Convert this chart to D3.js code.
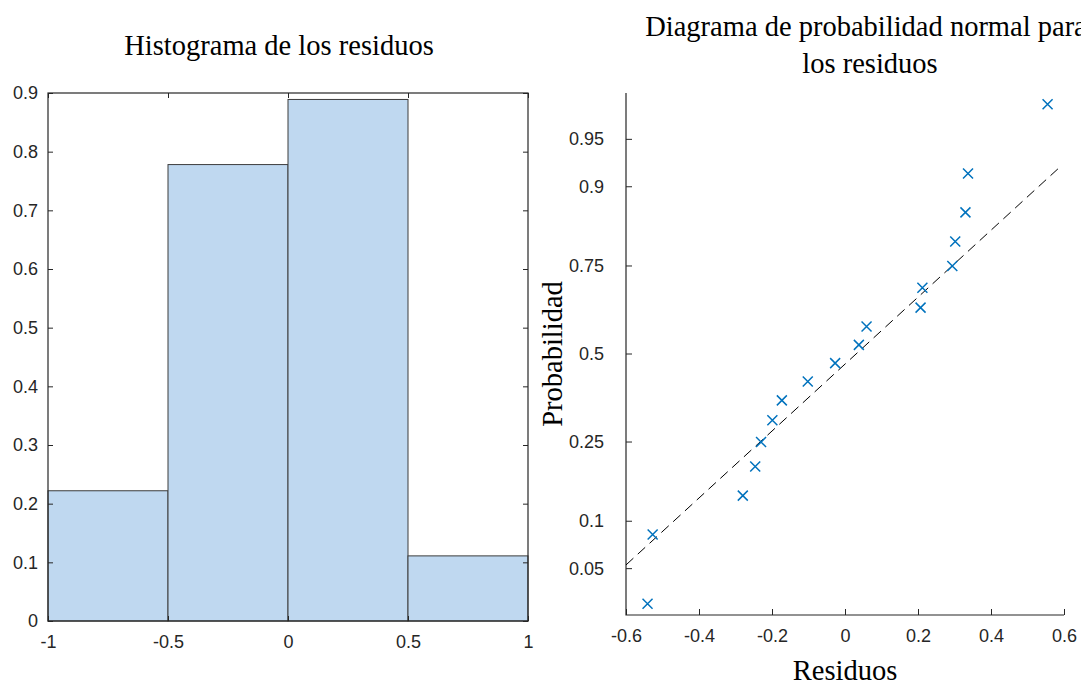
<!DOCTYPE html>
<html>
<head>
<meta charset="utf-8">
<script src="https://cdn.jsdelivr.net/npm/d3@7"></script>
<style>
	body { margin: 0; background: white; }
	.tick text { font-family: 'Liberation Sans', Arial, sans-serif; font-size: 18px; fill: #262626; }
	.ttl { font-family: 'Liberation Serif', 'Times New Roman', serif; font-size: 28.5px; fill: black; }
</style>
</head>
<body>
<svg id="chart" width="1081" height="686"></svg>
<script>
'use strict'

// histogram (normalised as pdf)
var binEdges = [-1, -0.5, 0, 0.5, 1];
var binHeights = [0.222, 0.778, 0.889, 0.111];
var histXTicks = [-1, -0.5, 0, 0.5, 1];
var histYTicks = [0, 0.1, 0.2, 0.3, 0.4, 0.5, 0.6, 0.7, 0.8, 0.9];

// normal probability plot
var residuals = [-0.541, -0.527, -0.280, -0.246, -0.230, -0.199, -0.173, -0.102, -0.027,
	0.038, 0.059, 0.207, 0.212, 0.294, 0.302, 0.330, 0.337, 0.555];
var probs = [0.0278, 0.0833, 0.1389, 0.1944, 0.25, 0.3056, 0.3611, 0.4167, 0.4722,
	0.5278, 0.5833, 0.6389, 0.6944, 0.75, 0.8056, 0.8611, 0.9167, 0.9722];
var refLineX = [-0.6, 0.586];
var refLineP = [0.053, 0.923];
var probXTicks = [-0.6, -0.4, -0.2, 0, 0.2, 0.4, 0.6];
var probYTicks = [0.05, 0.1, 0.25, 0.5, 0.75, 0.9, 0.95];

var AXIS_COLOR = '#262626';

// inverse normal cdf (Acklam)
function probit(p) {
	var a = [-39.69683028665376, 220.9460984245205, -275.9285104469687, 138.3577518672690, -30.66479806614716, 2.506628277459239];
	var b = [-54.47609879822406, 161.5858368580409, -155.6989798598866, 66.80131188771972, -13.28068155288572];
	var c = [-0.007784894002430293, -0.3223964580411365, -2.400758277161838, -2.549732539343734, 4.374664141464968, 2.938163982698783];
	var d = [0.007784695709041462, 0.3224671290700398, 2.445134137142996, 3.754408661907416];
	var q, r;
	if (p < 0.02425) {
		q = Math.sqrt(-2 * Math.log(p));
		return (((((c[0]*q+c[1])*q+c[2])*q+c[3])*q+c[4])*q+c[5]) / ((((d[0]*q+d[1])*q+d[2])*q+d[3])*q+1);
	}
	if (p > 1 - 0.02425) {
		q = Math.sqrt(-2 * Math.log(1 - p));
		return -(((((c[0]*q+c[1])*q+c[2])*q+c[3])*q+c[4])*q+c[5]) / ((((d[0]*q+d[1])*q+d[2])*q+d[3])*q+1);
	}
	q = p - 0.5;
	r = q * q;
	return (((((a[0]*r+a[1])*r+a[2])*r+a[3])*r+a[4])*r+a[5])*q / (((((b[0]*r+b[1])*r+b[2])*r+b[3])*r+b[4])*r+1);
}

// plain hyphen, as matlab prints it
function fmt(d) { return String(d); }

var svg = d3.select('#chart');

svg.append('rect')
	.attr('width', 1081)
	.attr('height', 686)
	.attr('fill', 'white');

function styleAxis(g) {
	g.select('.domain').remove();
	g.selectAll('.tick line').attr('stroke', AXIS_COLOR);
}

// ---------- left: histogram ----------
var hx = d3.scaleLinear().domain([-1, 1]).range([48, 528]);
var hy = d3.scaleLinear().domain([0, 0.9]).range([621, 93]);

var bins = binHeights.map(function(h, i) {
	return { x0: binEdges[i], x1: binEdges[i + 1], h: h };
});

svg.append('g')
	.selectAll('rect')
	.data(bins)
	.enter()
	.append('rect')
	.attr('x', function(d) { return hx(d.x0); })
	.attr('y', function(d) { return hy(d.h); })
	.attr('width', function(d) { return hx(d.x1) - hx(d.x0); })
	.attr('height', function(d) { return hy(0) - hy(d.h); })
	.attr('fill', '#bfd8f0')
	.attr('stroke', '#3c3c3c')
	.attr('stroke-width', 1);

svg.append('g')
	.attr('transform', 'translate(0,621)')
	.call(d3.axisBottom(hx).tickValues(histXTicks).tickSize(-5).tickPadding(14).tickFormat(fmt))
	.call(styleAxis);

svg.append('g')
	.attr('transform', 'translate(0,93)')
	.call(d3.axisTop(hx).tickValues(histXTicks).tickSize(-5).tickFormat(''))
	.call(styleAxis);

svg.append('g')
	.attr('transform', 'translate(48,0)')
	.call(d3.axisLeft(hy).tickValues(histYTicks).tickSize(-5).tickPadding(10).tickFormat(fmt))
	.call(styleAxis);

svg.append('g')
	.attr('transform', 'translate(528,0)')
	.call(d3.axisRight(hy).tickValues(histYTicks).tickSize(-5).tickFormat(''))
	.call(styleAxis);

svg.append('rect')
	.attr('x', 48)
	.attr('y', 93)
	.attr('width', 480)
	.attr('height', 528)
	.attr('fill', 'none')
	.attr('stroke', AXIS_COLOR)
	.attr('stroke-width', 1.2);

svg.append('text')
	.attr('class', 'ttl')
	.attr('x', 279)
	.attr('y', 55)
	.attr('text-anchor', 'middle')
	.text('Histograma de los residuos');

// ---------- right: normal probability plot ----------
var px = d3.scaleLinear().domain([-0.6, 0.6]).range([626, 1064]);
var pz = d3.scaleLinear().domain([-2, 2]).range([615, 93]);
function py(p) { return pz(probit(p)); }

svg.append('g')
	.attr('transform', 'translate(0,615)')
	.call(d3.axisBottom(px).tickValues(probXTicks).tickSize(-6).tickPadding(14).tickFormat(fmt))
	.call(styleAxis);

var yAx = svg.append('g')
	.attr('transform', 'translate(626,0)');

yAx.selectAll('.tk')
	.data(probYTicks)
	.enter()
	.append('g')
	.attr('class', 'tick')
	.attr('transform', function(d) { return 'translate(0,' + py(d) + ')'; })
	.each(function(d) {
		var t = d3.select(this);
		t.append('line').attr('x2', 6).attr('stroke', AXIS_COLOR);
		t.append('text')
			.attr('x', -22)
			.attr('dy', '0.34em')
			.attr('text-anchor', 'end')
			.text(fmt(d));
	});

svg.append('path')
	.attr('d', 'M626,93V615H1064')
	.attr('fill', 'none')
	.attr('stroke', AXIS_COLOR)
	.attr('stroke-width', 1.2);

var refLine = refLineX.map(function(x, i) { return [x, refLineP[i]]; });

svg.append('path')
	.datum(refLine)
	.attr('d', d3.line()
		.x(function(d) { return px(d[0]); })
		.y(function(d) { return py(d[1]); }))
	.attr('fill', 'none')
	.attr('stroke', 'black')
	.attr('stroke-width', 1)
	.attr('stroke-dasharray', '10,6');

var pts = residuals.map(function(r, i) { return [r, probs[i]]; });
var m = 5;

svg.append('g')
	.selectAll('path')
	.data(pts)
	.enter()
	.append('path')
	.attr('d', function(d) {
		var x = px(d[0]), y = py(d[1]);
		return 'M' + (x - m) + ',' + (y - m) + 'L' + (x + m) + ',' + (y + m) +
			'M' + (x - m) + ',' + (y + m) + 'L' + (x + m) + ',' + (y - m);
	})
	.attr('fill', 'none')
	.attr('stroke', '#0072bd')
	.attr('stroke-width', 1.5);

svg.append('text')
	.attr('class', 'ttl')
	.attr('x', 866)
	.attr('y', 36)
	.attr('text-anchor', 'middle')
	.text('Diagrama de probabilidad normal para');

svg.append('text')
	.attr('class', 'ttl')
	.attr('x', 870)
	.attr('y', 73)
	.attr('text-anchor', 'middle')
	.text('los residuos');

svg.append('text')
	.attr('class', 'ttl')
	.attr('x', 845)
	.attr('y', 680)
	.attr('text-anchor', 'middle')
	.text('Residuos');

svg.append('text')
	.attr('class', 'ttl')
	.attr('transform', 'translate(562,354) rotate(-90)')
	.attr('text-anchor', 'middle')
	.text('Probabilidad');
</script>
</body>
</html>
